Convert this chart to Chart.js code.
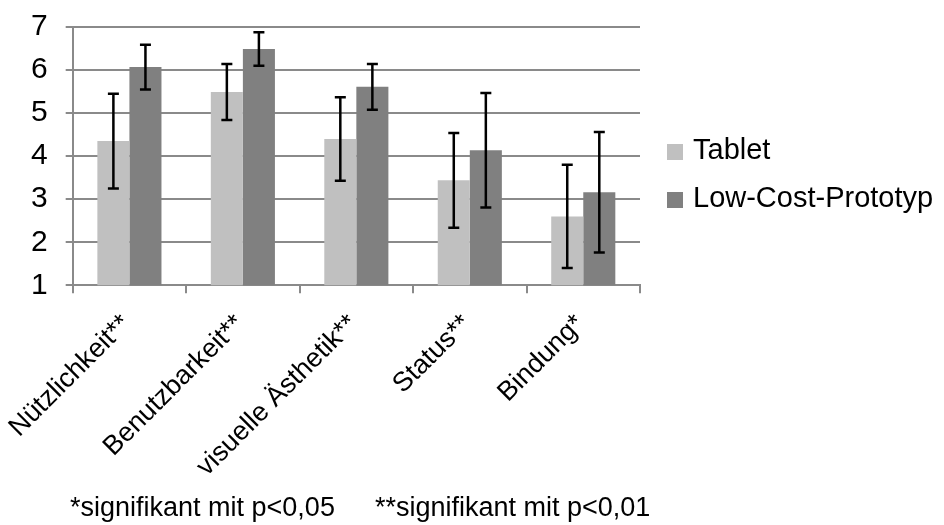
<!DOCTYPE html>
<html>
<head>
<meta charset="utf-8">
<script src="https://cdn.jsdelivr.net/npm/chart.js@4/dist/chart.umd.min.js"></script>
<style>
  body { margin: 0; background: #fff; }
  #wrap { position: relative; width: 944px; height: 525px; overflow: hidden; }
  #fussnote {
    position: absolute; left: 70px; top: 492px;
    font-family: 'Liberation Sans', Arial, sans-serif; font-size: 27px; color: #000;
    white-space: nowrap;
  }
  #fussnote span + span { margin-left: 40px; }
  #legende {
    position: absolute; left: 667px; top: 125px;
    font-family: 'Liberation Sans', Arial, sans-serif; font-size: 29px; color: #000;
  }
  .eintrag { height: 48px; line-height: 48px; white-space: nowrap; }
  .kasten { display: inline-block; width: 16px; height: 16px; margin-right: 10px; vertical-align: -1px; }
</style>
</head>
<body>
<div id="wrap">
  <canvas id="grafik" width="944" height="525"></canvas>
  <div id="legende"></div>
  <div id="fussnote"><span>*signifikant mit p&lt;0,05</span><span>**signifikant mit p&lt;0,01</span></div>
</div>
<script>
const kategorien = ['Nützlichkeit**', 'Benutzbarkeit**', 'visuelle Ästhetik**', 'Status**', 'Bindung*'];
const tabletMittel = [4.35, 5.49, 4.40, 3.44, 2.60];
const tabletSd = [1.10, 0.65, 0.97, 1.10, 1.20];
const prototypMittel = [6.07, 6.49, 5.61, 4.14, 3.16];
const prototypSd = [0.52, 0.39, 0.53, 1.33, 1.40];
const yTicks = [1, 2, 3, 4, 5, 6, 7];

const schrift = "'Liberation Sans', Arial, sans-serif";
const grau = '#8a8a8a';

// Fehlerbalken über den Balken zeichnen
const fehlerbalken = {
    id: 'fehlerbalken',
    afterDatasetsDraw(chart) {
        const ctx = chart.ctx;
        const y = chart.scales.y;
        ctx.save();
        ctx.strokeStyle = '#000';
        ctx.lineWidth = 2.5;
        chart.data.datasets.forEach((ds, di) => {
            const meta = chart.getDatasetMeta(di);
            meta.data.forEach((bar, i) => {
                const oben = y.getPixelForValue(ds.data[i] + ds.sd[i]);
                const unten = y.getPixelForValue(ds.data[i] - ds.sd[i]);
                ctx.beginPath();
                ctx.moveTo(bar.x, oben);
                ctx.lineTo(bar.x, unten);
                ctx.moveTo(bar.x - 5.5, oben);
                ctx.lineTo(bar.x + 5.5, oben);
                ctx.moveTo(bar.x - 5.5, unten);
                ctx.lineTo(bar.x + 5.5, unten);
                ctx.stroke();
            });
        });
        ctx.restore();
    }
};

const chart = new Chart(document.getElementById('grafik').getContext('2d'), {
    type: 'bar',
    data: {
        labels: kategorien,
        datasets: [{
            label: 'Tablet',
            data: tabletMittel,
            sd: tabletSd,
            backgroundColor: '#c0c0c0'
        }, {
            label: 'Low-Cost-Prototyp',
            data: prototypMittel,
            sd: prototypSd,
            backgroundColor: '#808080'
        }]
    },
    options: {
        responsive: false,
        animation: false,
        layout: { padding: { left: 13, top: 0, right: 304, bottom: 27 } },
        datasets: { bar: { categoryPercentage: 0.565, barPercentage: 1 } },
        plugins: {
            tooltip: { enabled: false },
            legend: { display: false }
        },
        scales: {
            x: {
                offset: true,
                afterFit: (axis) => { axis.paddingLeft = 0; },
                grid: { offset: true, drawOnChartArea: false, drawTicks: true, tickLength: 8, color: grau, lineWidth: 2 },
                border: { color: grau, width: 2 },
                ticks: {
                    autoSkip: false,
                    minRotation: 45,
                    maxRotation: 45,
                    padding: 15,
                    labelOffset: -3,
                    color: '#000',
                    font: { family: schrift, size: 27 }
                }
            },
            y: {
                min: 1,
                max: 7,
                afterBuildTicks: (axis) => { axis.ticks = yTicks.map(v => ({ value: v })); },
                afterFit: (axis) => { axis.paddingTop = 27; axis.paddingBottom = 0; },
                grid: { color: grau, lineWidth: 2, tickLength: 7 },
                border: { color: grau, width: 2 },
                ticks: {
                    autoSkip: false,
                    padding: 18,
                    color: '#000',
                    font: { family: schrift, size: 30 }
                }
            }
        }
    },
    plugins: [fehlerbalken]
});

// Legende rechts neben dem Diagramm
const legende = document.getElementById('legende');
chart.data.datasets.forEach(ds => {
    const div = document.createElement('div');
    div.classList.add('eintrag');
    div.innerHTML = `<span class="kasten" style="background:${ds.backgroundColor}"></span>${ds.label}`;
    legende.appendChild(div);
});
</script>
</body>
</html>
